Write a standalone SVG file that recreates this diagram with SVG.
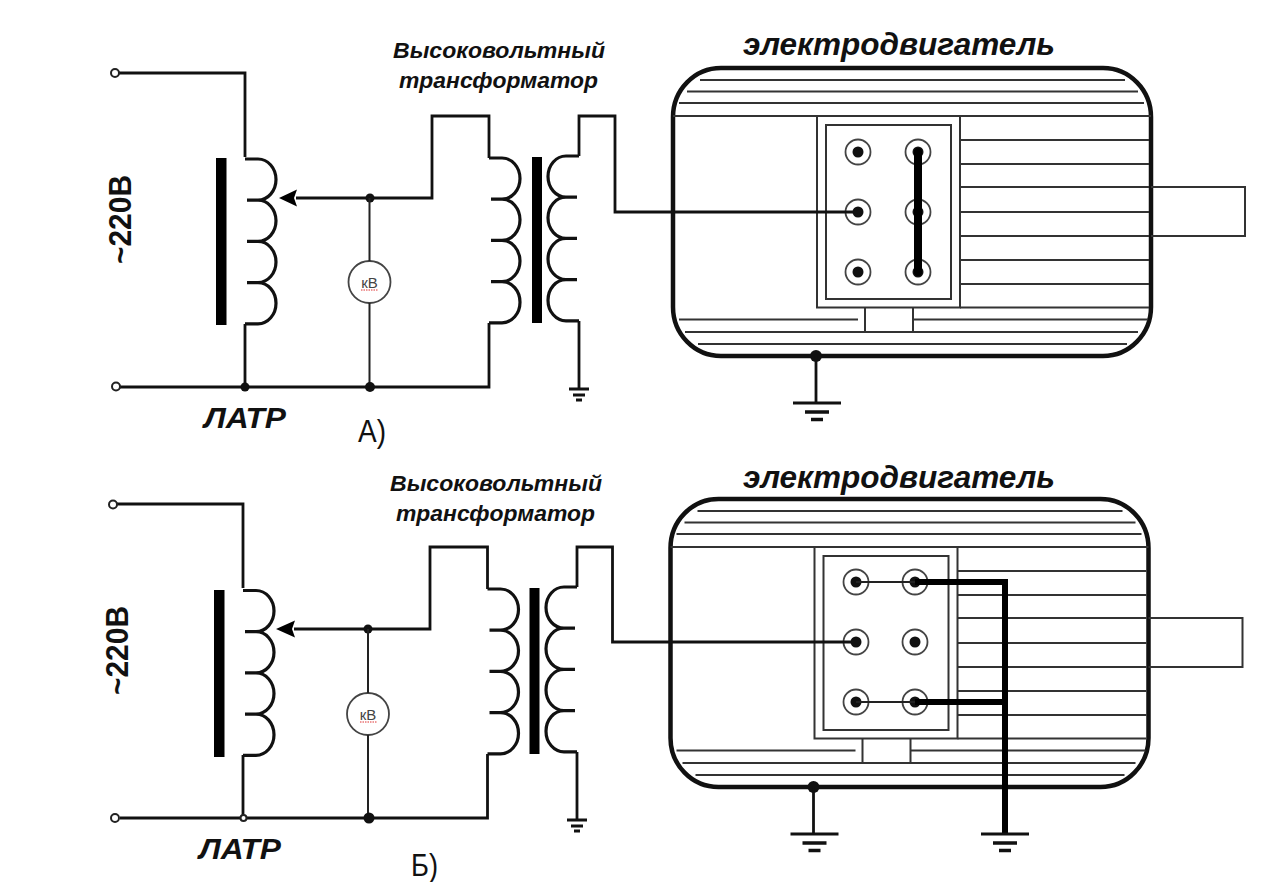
<svg xmlns="http://www.w3.org/2000/svg" width="1265" height="882" viewBox="0 0 1265 882">
<style>
text{fill:#111;font-family:"Liberation Sans",Arial,sans-serif}
.bi{font-weight:bold;font-style:italic}
.b{font-weight:bold}
.w{fill:none;stroke:#111;stroke-width:2.800;stroke-linejoin:miter}
.c{fill:none;stroke:#111;stroke-width:3.200}
.thin{fill:none;stroke:#222;stroke-width:2}
.h{fill:none;stroke:#333;stroke-width:2}
.shell{fill:#fff;stroke:#111;stroke-width:4.500}
.thick{fill:none;stroke:#000;stroke-width:6}
.jump{fill:none;stroke:#000;stroke-width:8;stroke-linecap:round}
.dot{fill:#111}
.vm{fill:#fff;stroke:#444;stroke-width:1.800}
.vt{font-size:15px;fill:#444}
.sq{fill:none;stroke:#d33;stroke-width:1;stroke-dasharray:1.5 1}
.term{fill:#fff;stroke:#222;stroke-width:2}
.ring{fill:none;stroke:#444;stroke-width:1.800}
.g{fill:none;stroke:#111}
</style>
<defs>
<path id="coil" class="c" d="M0 0H13A18 20.600 0 0 1 13 41.200H2M13 41.200A18 20.600 0 0 1 13 82.400H2M13 82.400A18 20.600 0 0 1 13 123.600H2M13 123.600A18 20.600 0 0 1 13 164.800H0"/>
<g id="motor">
<rect class="shell" x="673" y="68" width="478" height="288" rx="48" ry="49"/>
<path class="h" d="M700 80H1125M687 91.500H1138M679 103H1144M673 116H1151M960 140H1149M960 164H1149M960 187H1149M960 212H1149M960 236H1149M960 260H1149M960 284H1149M960 307.500H1149M679 319.500H858M913 319.500H1148M685 332H1138M698 344H1127"/>
<rect class="h" x="817" y="116" width="143" height="191.500"/>
<rect class="h" x="826" y="125" width="125" height="174"/>
<path class="h" d="M865 307.500V332M913 307.500V332"/>
<path class="h" d="M1151 187H1245V236H1151"/>
</g>
<g id="terminal"><circle class="ring" r="12.500"/><circle class="dot" r="5.500"/></g>
<g id="ground-large"><path class="g" stroke-width="3" d="M-24 0H24"/><path class="g" stroke-width="3.500" d="M-12 9H12M-6 16.500H6"/></g>
<g id="ground-small"><path class="g" stroke-width="3" d="M-10 0H10M-6 6H6M-3 11H3"/></g>
</defs>

<g id="latr-a">
<rect x="216" y="158" width="10.500" height="167" fill="#000"/>
<use href="#coil" x="245" y="159"/>
<text class="bi" x="204" y="428" font-size="30" textLength="82" lengthAdjust="spacingAndGlyphs">ЛАТР</text>
<text class="b" transform="translate(131 264) rotate(-90)" font-size="31" textLength="89" lengthAdjust="spacingAndGlyphs">~220В</text>
</g>
<g id="voltmeter-a">
<circle class="vm" cx="369.500" cy="282" r="21"/>
<text class="vt" x="369.500" y="288" text-anchor="middle">кВ</text>
<path class="sq" d="M361 290H378"/>
</g>
<g id="transformer-a">
<rect x="532" y="157" width="10" height="166" fill="#000"/>
<use href="#coil" x="489" y="158"/>
<use href="#coil" transform="translate(579 156) scale(-1 1)"/>
<text class="bi" x="393" y="58" font-size="22.500" textLength="212" lengthAdjust="spacingAndGlyphs">Высоковольтный</text>
<text class="bi" x="399" y="88" font-size="22.500" textLength="199" lengthAdjust="spacingAndGlyphs">трансформатор</text>
</g>
<g id="motor-a">
<use href="#motor"/>
<use href="#terminal" x="858" y="152"/>
<use href="#terminal" x="858" y="212"/>
<use href="#terminal" x="858" y="272"/>
<use href="#terminal" x="918" y="152"/>
<use href="#terminal" x="918" y="212"/>
<use href="#terminal" x="918" y="272"/>
<text class="bi" x="743" y="55" font-size="31" textLength="312" lengthAdjust="spacingAndGlyphs">электродвигатель</text>
</g>
<g id="caption-a"><text x="358" y="442" font-size="32" textLength="28" lengthAdjust="spacingAndGlyphs">А)</text></g>

<g id="latr-b">
<rect x="214" y="590" width="10.500" height="167" fill="#000"/>
<use href="#coil" x="243" y="590.500"/>
<text class="bi" x="199" y="859" font-size="30" textLength="82" lengthAdjust="spacingAndGlyphs">ЛАТР</text>
<text class="b" transform="translate(127.500 695) rotate(-90)" font-size="31" textLength="89" lengthAdjust="spacingAndGlyphs">~220В</text>
</g>
<g id="voltmeter-b">
<circle class="vm" cx="368" cy="714" r="21"/>
<text class="vt" x="368" y="720" text-anchor="middle">кВ</text>
<path class="sq" d="M360 722H377"/>
</g>
<g id="transformer-b">
<rect x="529.500" y="588" width="10" height="166" fill="#000"/>
<use href="#coil" x="487.500" y="589"/>
<use href="#coil" transform="translate(577 587) scale(-1 1)"/>
<text class="bi" x="390" y="491" font-size="22.500" textLength="212" lengthAdjust="spacingAndGlyphs">Высоковольтный</text>
<text class="bi" x="396" y="521" font-size="22.500" textLength="199" lengthAdjust="spacingAndGlyphs">трансформатор</text>
</g>
<g id="motor-b">
<use href="#motor" transform="translate(-2.500 431)"/>
<use href="#terminal" x="856" y="582"/>
<use href="#terminal" x="856" y="642"/>
<use href="#terminal" x="856" y="702"/>
<use href="#terminal" x="915" y="582"/>
<use href="#terminal" x="915" y="642"/>
<use href="#terminal" x="915" y="702"/>
<text class="bi" x="743" y="488" font-size="31" textLength="312" lengthAdjust="spacingAndGlyphs">электродвигатель</text>
</g>
<g id="caption-b"><text x="411" y="876" font-size="32" textLength="27" lengthAdjust="spacingAndGlyphs">Б)</text></g>

<g id="connectors">
<path class="w" d="M119 73H245V157M245 324V387M120 387H489V323M489 158V116H432V198H296"/>
<path d="M279 198L297 189.500L294 198L297 206.500Z" fill="#000"/>
<circle class="dot" cx="370" cy="198" r="4.500"/>
<path class="thin" d="M369.500 198V261M369.500 303V387"/>
<circle class="dot" cx="245" cy="387" r="4.500"/>
<circle class="dot" cx="370" cy="387" r="5"/>
<circle class="term" cx="115" cy="73" r="4"/>
<circle class="term" cx="116" cy="386.500" r="4"/>
<path class="w" d="M579 156V116H615V212H858M579 321V388"/>
<use href="#ground-small" x="579" y="389"/>
<path class="jump" d="M918 152V272"/>
<circle class="dot" cx="816" cy="356" r="6"/>
<path class="w" d="M816 356V403"/>
<use href="#ground-large" x="817" y="403"/>

<path class="w" d="M117 504H243V588M243 755V818M120 818H487.500V754M487.500 589V547H430V629H294"/>
<path d="M276 629L295 620.500L292 629L295 637.500Z" fill="#000"/>
<circle class="dot" cx="368" cy="629" r="4.500"/>
<path class="thin" d="M368 629V693M368 735V818"/>
<circle class="term" cx="243.500" cy="818" r="3" stroke-width="1.500"/>
<circle class="dot" cx="369" cy="818" r="5.500"/>
<circle class="term" cx="113" cy="504.500" r="4"/>
<circle class="term" cx="115" cy="818" r="4"/>
<path class="w" d="M577 587V547H612.500V642H856M577 752V819"/>
<use href="#ground-small" x="577" y="820"/>
<path class="thin" d="M856 582H915M856 702H915"/>
<path class="thick" d="M915 582H1005M915 702H1005M1005 579V833"/>
<circle class="dot" cx="813.500" cy="787" r="6"/>
<path class="w" d="M813.500 787V833"/>
<use href="#ground-large" x="814.500" y="834"/>
<use href="#ground-large" x="1005" y="834"/>
</g>
</svg>
